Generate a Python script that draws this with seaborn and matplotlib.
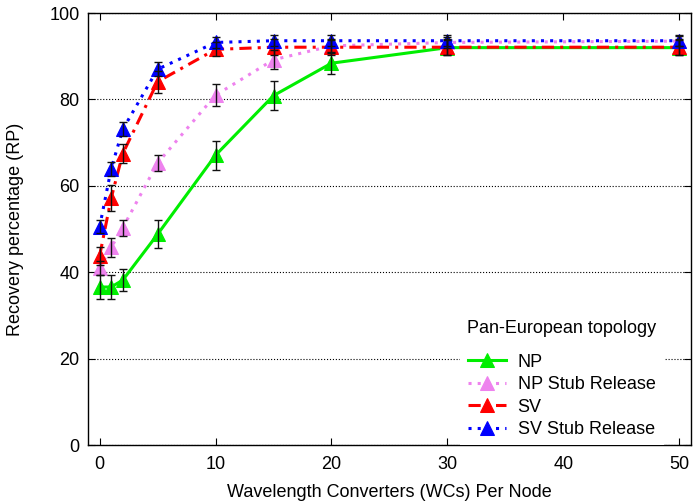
import matplotlib
matplotlib.use('Agg')
import matplotlib.pyplot as plt
import seaborn as sns
import pandas as pd

# Wavelength converters per node
wcs = [0, 1, 2, 5, 10, 15, 20, 30, 50]

np_vals = [36.6, 36.6, 38.2, 48.8, 67.1, 80.9, 88.4, 92.0, 92.0]
np_err = [2.8, 2.8, 2.6, 3.2, 3.4, 3.4, 2.4, 1.8, 1.8]

nps_vals = [41.0, 45.8, 50.3, 65.3, 81.0, 89.2, 92.4, 93.2, 93.5]
nps_err = [1.6, 2.2, 1.8, 1.8, 2.6, 2.2, 1.4, 1.2, 1.2]

sv_vals = [43.8, 57.2, 67.5, 84.1, 91.6, 92.1, 92.1, 92.1, 92.1]
sv_err = [2.0, 3.0, 2.3, 2.5, 1.6, 1.8, 1.8, 1.8, 1.8]

svs_vals = [50.5, 64.0, 73.1, 87.0, 93.2, 93.6, 93.6, 93.6, 93.6]
svs_err = [1.5, 1.6, 1.6, 1.6, 1.3, 1.3, 1.3, 1.3, 1.3]

labels = ['NP', 'NP Stub Release', 'SV', 'SV Stub Release']
colors = ['#00ee00', '#ee82ee', '#ff0000', '#0000ff']
styles = ['-', (0, (1, 2)), (0, (4, 2, 1, 2)), (0, (1, 2))]

plt.rcParams['font.family'] = ['Liberation Sans', 'DejaVu Sans']
fig = plt.figure(figsize=(6.93, 5.03), dpi=100)
ax = fig.add_axes([0.127, 0.115, 0.87, 0.859])

series = [(np_vals, np_err), (nps_vals, nps_err), (sv_vals, sv_err), (svs_vals, svs_err)]
for i, ((vals, errs), lab, col, ls) in enumerate(zip(series, labels, colors, styles)):
    df = pd.DataFrame({'x': wcs, 'y': vals})
    sns.lineplot(data=df, x='x', y='y', ax=ax, color=col, linestyle=ls, linewidth=2.2,
                 marker='^', markersize=9.5, markeredgecolor=col, label=lab, zorder=2 + i)
for i, (vals, errs) in enumerate(series):
    ax.errorbar(wcs, vals, yerr=errs, fmt='none', ecolor='#111111', elinewidth=1,
                capsize=3, capthick=1, zorder=10)

ax.set_xlim(-1, 51)
ax.set_ylim(0, 100)
ax.set_xticks([0, 10, 20, 30, 40, 50])
ax.set_yticks([0, 20, 40, 60, 80, 100])
ax.tick_params(direction='in', top=True, right=True, labelsize=13, length=5)
ax.tick_params(axis='x', pad=8)
ax.tick_params(axis='y', pad=6)
ax.yaxis.grid(True, linestyle=':', color='black', linewidth=0.8)
ax.set_axisbelow(True)
ax.set_xlabel('Wavelength Converters (WCs) Per Node', fontsize=13, labelpad=8)
ax.set_ylabel('Recovery percentage (RP)', fontsize=13, labelpad=18)
for s in ax.spines.values():
    s.set_linewidth(1)

leg = ax.legend(title='Pan-European topology', loc='lower left', bbox_to_anchor=(0.617, 0.0),
                fontsize=13, title_fontsize=13, frameon=True, edgecolor='none',
                framealpha=1, fancybox=False, handlelength=2.1, handletextpad=0.65,
                borderaxespad=0.0, labelspacing=0.3)
leg.get_frame().set_facecolor('white')
leg._legend_box.sep = 12

fig.savefig('out.png', dpi=100)
